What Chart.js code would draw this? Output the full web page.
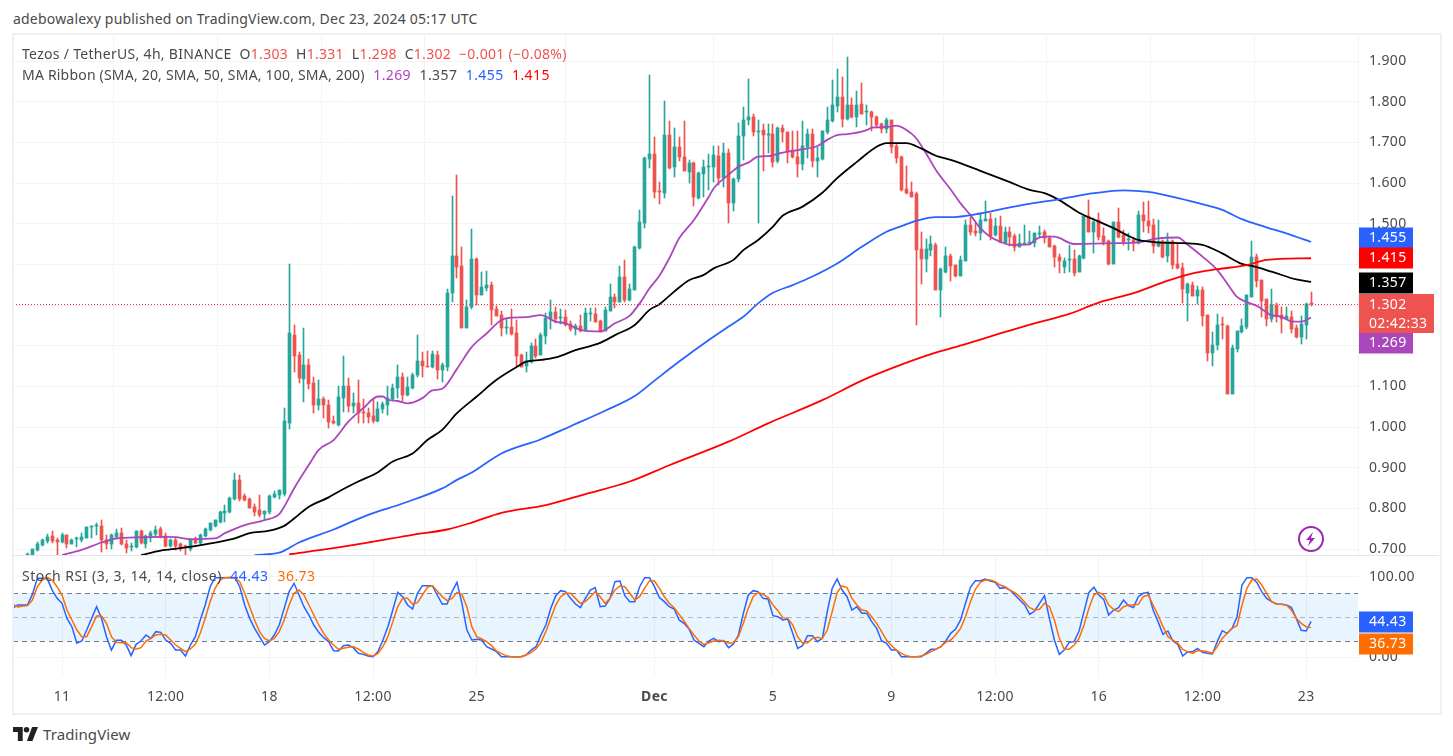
<!DOCTYPE html>
<html>
<head>
<meta charset="utf-8">
<title>Tezos / TetherUS</title>
<script src="https://cdn.jsdelivr.net/npm/chart.js@4"></script>
<style>
  html, body { margin: 0; padding: 0; background: #fff; }
  body { width: 1453px; height: 756px; position: relative; overflow: hidden; font-family: 'Noto Sans', sans-serif; color: #4a4a4a; font-size: 14px; }
  canvas { position: absolute; left: 13px; }
  .txt { position: absolute; white-space: pre; line-height: 18px; letter-spacing: 0.3px; }
  .val { margin-left: 0.8px; letter-spacing: 0.4px; }
  .frame { position: absolute; left: 12px; top: 33px; width: 1426px; height: 678px; border: 2px solid #eff0f6; }
  .sep { position: absolute; left: 13px; top: 555px; width: 1426px; height: 1px; background: #e3e5ec; }
</style>
</head>
<body>
<canvas id="priceChart" width="1427" height="521" style="top:34px"></canvas>
<canvas id="stochChart" width="1427" height="157" style="top:555px"></canvas>
<div class="frame"></div>
<div class="sep"></div>

<div class="txt" style="left:13px;top:10px;letter-spacing:0.2px">adebowalexy published on TradingView.com, Dec 23, 2024 05:17 UTC</div>
<div class="txt" style="left:22px;top:45px">Tezos / TetherUS, 4h, BINANCE  O<span style="color:#ef5350">1.303</span>  H<span style="color:#ef5350">1.331</span>  L<span style="color:#ef5350">1.298</span>  C<span style="color:#ef5350">1.302</span>  <span style="color:#ef5350">−0.001 (−0.08%)</span></div>
<div class="txt" style="left:22px;top:66px;letter-spacing:0.2px">MA Ribbon (SMA, 20, SMA, 50, SMA, 100, SMA, 200)  <span class="val" style="color:#ab47bc">1.269</span>  <span class="val">1.357</span>  <span class="val" style="color:#2962ff">1.455</span>  <span class="val" style="color:#ff0000">1.415</span></div>
<div class="txt" style="left:22px;top:567px;letter-spacing:0.5px">Stoch RSI (3, 3, 14, 14, close)  <span style="color:#2962ff">44.43</span>  <span class="val" style="color:#ff6d00">36.73</span></div>

<svg style="position:absolute;left:13px;top:727px" width="25" height="14" viewBox="0 0 36 20">
  <path fill="#222" d="M14 20H7V7H0V0h14zM28 20h-8L27.5 0h8.5z"></path><circle fill="#222" cx="19.5" cy="4" r="4"></circle>
</svg>
<div class="txt" style="left:43px;top:725px;font-size:15px;letter-spacing:0.1px">TradingView</div>

<svg style="position:absolute;left:1297px;top:525px" width="28" height="28" viewBox="0 0 28 28">
  <circle cx="14" cy="14" r="12" fill="#fff" stroke="#9c27b0" stroke-width="2"></circle>
  <path fill="#9c27b0" d="M16 7l-7 8h4l-2 6 7-8h-4z"></path>
</svg>

<script>
// candle index 0 is Nov 11 00:00, one step is 4h
const firstCandle = -7;
const opens = [
  0.680,0.672,0.698,0.710,0.720,0.731,0.722,
  0.718,0.734,0.713,0.724,0.722,0.728,0.753,0.756,0.757,0.722,
  0.712,0.730,0.739,0.712,0.706,0.704,0.744,0.712,0.732,0.736,
  0.749,0.732,0.707,0.722,0.712,0.707,0.699,0.722,0.715,0.733,
  0.747,0.757,0.767,0.789,0.791,0.824,0.870,0.831,0.823,0.803,
  0.796,0.785,0.791,0.829,0.833,0.835,1.011,1.226,1.177,1.118,
  1.152,1.108,1.054,1.069,1.054,1.015,1.005,1.072,1.101,1.052,
  1.060,1.038,1.035,1.027,1.015,1.044,1.054,1.069,1.096,1.123,
  1.079,1.096,1.128,1.162,1.150,1.148,1.177,1.140,1.148,1.330,
  1.420,1.396,1.244,1.295,1.413,1.325,1.342,1.349,1.290,1.275,
  1.244,1.246,1.231,1.177,1.151,1.161,1.199,1.177,1.224,1.266,
  1.283,1.269,1.270,1.253,1.240,1.248,1.239,1.279,1.278,1.261,
  1.237,1.285,1.320,1.308,1.369,1.312,1.337,1.440,1.502,1.659,
  1.671,1.580,1.575,1.718,1.639,1.689,1.664,1.628,1.649,1.563,
  1.622,1.640,1.640,1.666,1.612,1.674,1.552,1.610,1.716,1.755,
  1.762,1.726,1.730,1.719,1.720,1.654,1.735,1.726,1.681,1.664,
  1.647,1.689,1.720,1.655,1.659,1.725,1.753,1.789,1.812,1.757,
  1.792,1.763,1.794,1.774,1.775,1.763,1.745,1.733,1.755,1.691,
  1.665,1.585,1.578,1.573,1.438,1.413,1.435,1.448,1.337,1.381,
  1.420,1.398,1.372,1.408,1.497,1.482,1.476,1.507,1.511,1.472,
  1.494,1.452,1.480,1.470,1.443,1.450,1.453,1.453,1.475,1.480,
  1.466,1.445,1.419,1.394,1.411,1.413,1.381,1.415,1.519,1.480,
  1.509,1.470,1.458,1.402,1.503,1.472,1.460,1.460,1.452,1.521,
  1.507,1.497,1.446,1.457,1.421,1.457,1.401,1.390,1.329,1.349,
  1.323,1.337,1.275,1.183,1.202,1.251,1.249,1.081,1.192,1.234,
  1.245,1.320,1.417,1.361,1.315,1.266,1.301,1.275,1.266,1.271,
  1.244,1.221,1.252,1.303
];
const highs = [
  0.689,0.699,0.718,0.725,0.737,0.744,0.726,
  0.739,0.734,0.724,0.729,0.739,0.755,0.757,0.763,0.771,0.735,
  0.737,0.749,0.751,0.722,0.714,0.745,0.748,0.735,0.745,0.757,
  0.754,0.740,0.725,0.728,0.716,0.710,0.724,0.730,0.737,0.751,
  0.765,0.771,0.793,0.808,0.828,0.887,0.882,0.835,0.825,0.811,
  0.833,0.794,0.833,0.843,0.845,1.046,1.401,1.251,1.184,1.243,
  1.167,1.123,1.116,1.074,1.066,1.027,1.101,1.175,1.120,1.084,
  1.116,1.069,1.047,1.069,1.062,1.062,1.101,1.106,1.152,1.134,
  1.124,1.134,1.226,1.185,1.187,1.187,1.187,1.157,1.339,1.568,
  1.620,1.443,1.312,1.487,1.416,1.382,1.384,1.357,1.298,1.286,
  1.266,1.290,1.263,1.179,1.185,1.207,1.216,1.231,1.280,1.312,
  1.295,1.290,1.288,1.261,1.253,1.275,1.293,1.293,1.293,1.263,
  1.295,1.352,1.327,1.396,1.411,1.352,1.445,1.534,1.663,1.866,
  1.713,1.603,1.802,1.752,1.735,1.713,1.752,1.657,1.652,1.628,
  1.657,1.671,1.691,1.691,1.698,1.684,1.612,1.748,1.788,1.856,
  1.770,1.755,1.745,1.745,1.745,1.738,1.743,1.726,1.728,1.728,
  1.752,1.733,1.733,1.689,1.728,1.788,1.853,1.880,1.861,1.911,
  1.809,1.826,1.847,1.792,1.778,1.765,1.748,1.760,1.755,1.699,
  1.666,1.642,1.602,1.578,1.480,1.462,1.470,1.453,1.391,1.443,
  1.425,1.398,1.420,1.509,1.516,1.502,1.526,1.556,1.526,1.514,
  1.520,1.492,1.492,1.475,1.475,1.497,1.483,1.478,1.494,1.484,
  1.470,1.448,1.425,1.415,1.448,1.435,1.423,1.519,1.558,1.513,
  1.527,1.489,1.460,1.505,1.539,1.484,1.476,1.468,1.531,1.554,
  1.556,1.511,1.509,1.460,1.478,1.460,1.452,1.403,1.355,1.356,
  1.347,1.344,1.275,1.233,1.278,1.271,1.250,1.202,1.236,1.265,
  1.325,1.457,1.425,1.361,1.315,1.339,1.304,1.296,1.294,1.286,
  1.251,1.274,1.306,1.331
];
const lows = [
  0.675,0.670,0.695,0.708,0.714,0.716,0.685,
  0.716,0.702,0.712,0.704,0.718,0.726,0.728,0.735,0.693,0.700,
  0.700,0.725,0.710,0.689,0.696,0.702,0.712,0.702,0.718,0.733,
  0.726,0.704,0.706,0.698,0.696,0.685,0.696,0.712,0.712,0.730,
  0.744,0.755,0.765,0.767,0.789,0.821,0.818,0.818,0.800,0.780,
  0.778,0.773,0.786,0.826,0.824,0.830,0.995,1.136,1.108,1.061,
  1.093,1.035,1.042,1.022,0.998,1.007,1.002,1.037,1.037,1.034,
  1.010,1.010,1.011,1.010,1.012,1.034,1.030,1.065,1.071,1.064,
  1.076,1.093,1.124,1.124,1.148,1.146,1.118,1.111,1.138,1.307,
  1.367,1.244,1.244,1.290,1.300,1.325,1.335,1.251,1.274,1.224,
  1.229,1.226,1.148,1.148,1.136,1.158,1.170,1.177,1.204,1.241,
  1.256,1.253,1.249,1.237,1.226,1.234,1.237,1.261,1.258,1.234,
  1.236,1.285,1.293,1.308,1.307,1.311,1.337,1.438,1.489,1.637,
  1.563,1.548,1.563,1.634,1.615,1.655,1.630,1.601,1.544,1.561,
  1.566,1.583,1.602,1.595,1.591,1.502,1.532,1.603,1.657,1.743,
  1.716,1.502,1.630,1.674,1.639,1.649,1.702,1.650,1.661,1.615,
  1.632,1.661,1.639,1.615,1.657,1.720,1.751,1.775,1.738,1.755,
  1.760,1.738,1.770,1.743,1.728,1.736,1.723,1.724,1.675,1.650,
  1.581,1.573,1.566,1.251,1.352,1.382,1.420,1.337,1.271,1.379,
  1.360,1.369,1.371,1.408,1.472,1.470,1.460,1.507,1.460,1.470,
  1.452,1.450,1.445,1.433,1.443,1.448,1.448,1.443,1.468,1.453,
  1.442,1.394,1.378,1.379,1.382,1.372,1.380,1.413,1.479,1.427,
  1.460,1.448,1.398,1.401,1.464,1.448,1.435,1.433,1.450,1.480,
  1.476,1.429,1.443,1.416,1.405,1.389,1.388,1.304,1.261,1.323,
  1.302,1.248,1.162,1.151,1.189,1.216,1.081,1.081,1.185,1.230,
  1.241,1.319,1.345,1.271,1.248,1.259,1.259,1.232,1.265,1.232,
  1.218,1.205,1.216,1.298
];
const closes = [
  0.687,0.699,0.712,0.722,0.730,0.720,0.718,
  0.734,0.713,0.722,0.725,0.730,0.753,0.754,0.757,0.722,0.712,
  0.735,0.739,0.712,0.702,0.707,0.744,0.714,0.732,0.739,0.747,
  0.730,0.707,0.722,0.707,0.703,0.706,0.722,0.715,0.735,0.749,
  0.763,0.771,0.791,0.794,0.826,0.870,0.824,0.821,0.801,0.791,
  0.784,0.793,0.830,0.835,0.844,1.015,1.231,1.175,1.120,1.152,
  1.106,1.054,1.069,1.054,1.013,1.010,1.075,1.101,1.052,1.060,
  1.035,1.035,1.025,1.015,1.044,1.057,1.072,1.096,1.123,1.079,
  1.098,1.128,1.162,1.150,1.148,1.180,1.140,1.152,1.330,1.420,
  1.394,1.244,1.295,1.413,1.325,1.344,1.349,1.288,1.274,1.243,
  1.246,1.229,1.175,1.148,1.162,1.199,1.175,1.226,1.268,1.283,
  1.266,1.270,1.251,1.241,1.248,1.236,1.280,1.280,1.258,1.234,
  1.288,1.320,1.307,1.369,1.312,1.339,1.443,1.504,1.661,1.671,
  1.579,1.579,1.718,1.637,1.689,1.664,1.630,1.649,1.566,1.625,
  1.639,1.641,1.669,1.613,1.674,1.552,1.610,1.716,1.755,1.762,
  1.726,1.728,1.718,1.720,1.652,1.735,1.726,1.676,1.664,1.647,
  1.691,1.720,1.655,1.661,1.728,1.755,1.792,1.812,1.757,1.792,
  1.762,1.792,1.770,1.775,1.763,1.743,1.732,1.755,1.689,1.662,
  1.583,1.575,1.566,1.435,1.413,1.438,1.450,1.337,1.389,1.420,
  1.396,1.372,1.411,1.497,1.480,1.476,1.509,1.511,1.470,1.494,
  1.454,1.480,1.468,1.443,1.452,1.453,1.456,1.478,1.476,1.466,
  1.443,1.419,1.409,1.409,1.412,1.379,1.420,1.519,1.480,1.504,
  1.468,1.456,1.402,1.503,1.468,1.456,1.462,1.456,1.521,1.507,
  1.495,1.445,1.456,1.419,1.457,1.398,1.390,1.339,1.352,1.323,
  1.337,1.273,1.183,1.202,1.251,1.250,1.081,1.195,1.236,1.248,
  1.325,1.419,1.360,1.311,1.266,1.301,1.273,1.266,1.273,1.241,
  1.221,1.253,1.302,1.302
];

// moving averages, read at the candle indexes listed next to them
const sma20Idx = [0,4,8,11,16,21,23,26,31,33,37,41,44,45,47,50,52,55,58,61,64,65,66,68,70,73,75,77,80,83,86,89,91,94,97,100,102,105,109,112,115,117,119,121,123,125,128,131,132,135,137,139,141,143,146,149,153,155,157,159,163,164,167,169,172,173,175,177,180,182,184,186,188,190,192,196,197,199,201,205,214,218,222,226,228,231,234,236,238,240,242,245,247,249,251,253];
const sma20 = [0.685,0.698,0.716,0.726,0.729,0.730,0.729,0.724,0.726,0.739,0.759,0.771,0.786,0.804,0.849,0.907,0.944,0.968,1.013,1.046,1.075,1.075,1.067,1.064,1.058,1.071,1.090,1.094,1.143,1.197,1.230,1.263,1.269,1.270,1.275,1.259,1.255,1.239,1.235,1.255,1.274,1.304,1.341,1.372,1.415,1.464,1.509,1.566,1.587,1.620,1.640,1.650,1.665,1.666,1.675,1.681,1.691,1.706,1.718,1.720,1.730,1.736,1.738,1.741,1.722,1.710,1.673,1.632,1.584,1.550,1.521,1.489,1.468,1.456,1.448,1.449,1.460,1.468,1.468,1.450,1.452,1.454,1.464,1.466,1.448,1.419,1.386,1.353,1.320,1.307,1.298,1.275,1.271,1.260,1.259,1.269];
const sma50Idx = [16,20,24,31,35,38,42,45,47,50,54,56,60,64,67,71,74,77,80,84,88,92,94,97,100,104,109,112,116,119,121,124,127,130,132,136,138,141,144,146,150,154,157,161,165,167,171,174,177,180,186,192,196,199,202,206,210,213,216,218,222,227,231,235,239,241,245,250,253];
const sma50 = [0.685,0.696,0.702,0.716,0.726,0.739,0.745,0.757,0.775,0.804,0.827,0.841,0.866,0.889,0.915,0.935,0.968,0.993,1.034,1.075,1.116,1.147,1.161,1.165,1.171,1.189,1.207,1.226,1.251,1.288,1.302,1.333,1.361,1.374,1.390,1.411,1.435,1.460,1.493,1.520,1.542,1.576,1.612,1.652,1.689,1.698,1.698,1.685,1.667,1.657,1.630,1.602,1.583,1.575,1.558,1.527,1.505,1.489,1.470,1.460,1.454,1.452,1.448,1.427,1.401,1.396,1.382,1.363,1.357];
const sma100Idx = [39,44,45,48,55,62,69,77,80,83,89,97,103,110,116,120,125,131,135,138,141,144,148,152,157,162,167,170,173,177,180,186,192,197,202,209,215,220,225,230,235,239,244,249,253];
const sma100 = [0.685,0.691,0.696,0.716,0.748,0.784,0.812,0.849,0.870,0.888,0.935,0.970,1.002,1.040,1.076,1.114,1.161,1.214,1.247,1.271,1.304,1.330,1.349,1.370,1.402,1.443,1.480,1.494,1.507,1.516,1.516,1.525,1.540,1.551,1.560,1.575,1.582,1.578,1.566,1.551,1.534,1.511,1.491,1.472,1.455];
const sma200Idx = [46,55,63,71,78,83,89,98,106,115,123,135,143,154,162,168,176,183,190,197,204,210,217,224,229,234,240,244,253];
const sma200 = [0.687,0.702,0.718,0.735,0.748,0.765,0.789,0.808,0.835,0.866,0.906,0.964,1.009,1.066,1.114,1.144,1.179,1.204,1.230,1.255,1.278,1.306,1.329,1.360,1.378,1.388,1.398,1.411,1.415];

// stoch rsi, one value per candle
const firstStoch = -10;
const stochK = [
  60.8,65,65,65,78.3,98.3,98.3,98.3,83.7,73.3,
  67.1,48.3,37.9,17.1,20,33.7,48.3,62.9,48.3,25.4,
  8.7,20.8,20.8,15,1.7,15.8,20,27.5,23.3,31.7,
  30.8,21.2,17.1,8.7,8.7,1.2,15,25.4,46.3,65,
  87.9,99.2,99.2,99.2,99.2,99.2,87.9,65,48.3,35.8,
  25.4,15,19.2,27.5,40,60.8,81.7,92.1,77.5,62.9,
  52.5,40,30.8,24.2,19.2,7.9,7.5,14.2,15,11.7,
  4.6,3.3,1.2,0.4,6.7,21.2,37.9,58.7,80.8,75.4,
  65,60,79.6,89.2,89.2,89.2,77.5,66.2,66.2,81.7,
  93.3,67.1,33.7,21.2,22.1,21.2,12.9,10,6.7,0.4,
  0.4,0.4,0,0.4,2.5,8.7,12.9,27.5,40,60.8,
  76.7,82.9,81.7,73.3,66.2,61.7,73.3,83.7,86.7,62.9,
  63.7,73.3,94.2,95,76.7,69.2,69.2,87.9,99.2,99.2,
  87.9,74.2,69.2,62.9,60,46.3,42.1,35,21.2,17.1,
  12.9,20,23.3,19.2,20.4,11.7,16.2,27.5,54.6,77.5,
  82.9,81.7,73.3,72.5,51.7,50.4,46.3,47.5,29.6,10.8,
  14.2,26.7,26.7,19.2,23.3,56.7,85.8,97.5,83.7,75.4,
  58.7,62.9,54.6,54.6,44.2,35.8,20.4,17.1,8.7,8.7,
  0.4,0.4,0.4,0.4,0.4,4.6,9.6,9.6,12.9,20,
  29.6,35,46.3,67.1,87.1,95.4,95.4,97.5,95,93.3,
  85.8,86.7,83.7,77.5,71.2,65,53.3,57.5,67.1,76.7,
  48.3,21.2,3.3,8.7,18.3,19.2,32.5,56.7,80.8,87.1,
  77.5,72.1,52.5,58.7,61.7,71.2,64.2,61.7,75.4,79.6,
  80.8,58.7,44.2,28.3,32.5,20,15.8,1.2,6.7,6.7,
  10.8,5.8,4.6,3.7,19.2,32.9,29.6,35.8,50.4,90,
  99.2,99.2,93.3,81.7,73.3,69.2,66.2,65.8,65,62.1,
  48.3,33.3,32.5,44.43
];
const stochD = [
  66.2,62.5,63.3,64.2,71.2,87.9,96.2,99.6,96.2,87.9,
  77.5,58.7,46.3,33.7,25.4,25.4,37.9,51.2,51.2,42.1,
  25.4,18.3,17.9,17.9,11.7,9.6,11.7,20,23.3,27.5,
  28.3,27.5,21.2,15,10.8,6.7,10,15.8,29.6,48.3,
  69.2,85.8,96.2,99.2,99.6,99.2,94.2,79.6,62.9,46.3,
  31.7,23.3,20,23.3,31.7,46.3,65,79.6,83.7,77.5,
  65,52.5,40,29.6,21.2,15,9.6,10.8,12.1,12.9,
  10,5.8,2.5,1.2,4.6,12.9,25.4,44.2,62.9,73.3,
  73.3,66.2,67.9,77.5,87.1,89.2,82.5,75.4,70.4,73.3,
  80.8,78.3,62.9,37.9,25.4,22.5,19.2,14.2,7.5,4.2,
  1.7,0.4,0.4,0.4,2.5,5.4,10,18.3,31.7,48.3,
  65,75.4,79.6,79.6,73.3,67.1,69.2,75.4,81.7,75.4,
  67.1,73.3,83.7,88.8,87.9,79.6,71.2,75.4,85.8,95.4,
  95,85.8,75.4,67.1,61.7,53.3,45,35.8,27.5,20,
  15.8,17.9,20,20.8,20.4,17.1,17.9,25.4,42.1,60.8,
  75.4,80.8,78.3,74.6,65,57.9,49.2,48.3,40,25.4,
  17.1,17.9,23.3,24.6,23.3,33.7,56.7,80.4,88.8,86.7,
  73.3,65,58.7,57.5,50.4,42.1,31.7,21.2,14.2,8.7,
  4.6,1.7,0.4,0.4,1.2,3.3,6.7,9.6,12.9,18.3,
  21.2,27.5,35.8,50.4,69.2,84.6,93.3,96.2,96.2,94.2,
  90,87.9,83.7,80.4,75.4,68.3,61.7,58.7,59.6,67.1,
  62.9,46.3,23.3,9.6,9.6,15,23.3,40,60.8,77.5,
  80.8,77.5,65,59.6,56.7,62.9,65,65,65.8,75.4,
  77.5,65,52.5,37.9,25.4,21.2,17.1,9.6,6.7,4.6,
  7.9,7.9,6.7,4.6,12.9,23.3,29.6,35.8,39.2,65,
  85.8,96.2,97.5,90,79.6,69.2,65.8,65.8,65,58.7,
  48.3,42.1,37.9,36.73
];

// axes
const priceTicks = [0.7,0.8,0.9,1.0,1.1,1.2,1.3,1.4,1.5,1.6,1.7,1.8,1.9];
const stochTicks = [0,100];
const timeTickIdx = [0,21,42,63,84,120,144,168,189,210,231,252];
const timeTickLabels = ['11','12:00','18','12:00','25','Dec','5','9','12:00','16','12:00','23'];
const lastPrice = 1.302;

const GREEN = '#26a69a', RED = '#ef5350', GRID = '#f3f4f6', AXIS_TEXT = '#4a4a4a';
const FONT = "'Noto Sans', sans-serif";
const AXIS_W = 82;
const X_MIN = -9.93, X_MAX = 262.5;

function pairs(idx, vals) {
  return idx.map(function (x, n) { return { x: x, y: vals[n] }; });
}
function timeScale(showLabels) {
  return {
    type: 'linear', min: X_MIN, max: X_MAX, offset: false,
    afterBuildTicks: function (s) { s.ticks = timeTickIdx.map(function (v) { return { value: v }; }); },
    afterFit: function (s) {
      s.height = showLabels ? 35 : 0;
      s.paddingLeft = 0;
      s.paddingRight = 0;
    },
    grid: { color: GRID, drawTicks: false },
    border: { display: false },
    ticks: {
      display: showLabels, autoSkip: false, maxRotation: 0, padding: 12, color: AXIS_TEXT,
      font: function (ctx) {
        return { family: FONT, size: 14, weight: ctx.tick && ctx.tick.value === 120 ? 'bold' : 'normal' };
      },
      callback: function (v) { return timeTickLabels[timeTickIdx.indexOf(v)]; }
    }
  };
}
function valueScale(min, max, tickList, digits) {
  return {
    position: 'right', min: min, max: max,
    afterBuildTicks: function (s) { s.ticks = tickList.map(function (v) { return { value: v }; }); },
    afterFit: function (s) {
      s.width = AXIS_W;
      // no room kept for half a label above and below, the panes touch
      s.paddingTop = 0;
      s.paddingBottom = 0;
    },
    grid: { color: GRID, drawTicks: false },
    border: { display: false },
    ticks: {
      autoSkip: false, padding: 11, color: AXIS_TEXT, font: { family: FONT, size: 14 },
      callback: function (v) { return v.toFixed(digits); }
    }
  };
}
function maLine(label, idx, vals, color) {
  return { type: 'line', label: label, data: pairs(idx, vals), borderColor: color, borderWidth: 1.8, pointRadius: 0, cubicInterpolationMode: 'monotone', order: 1 };
}

// canvas text gets the same slight tracking as the labels in the picture
const tracking = {
  id: 'tracking',
  beforeDraw: function (chart) { chart.ctx.letterSpacing = '0.35px'; }
};

// snaps candles to whole pixels so bodies and wicks stay crisp
const snapBars = {
  id: 'snapBars',
  beforeDatasetsDraw: function (chart) {
    chart.data.datasets.forEach(function (ds, n) {
      if (ds.type !== 'bar') return;
      chart.getDatasetMeta(n).data.forEach(function (el) {
        el.x = Math.floor(el.x) + 0.5;
        el.y = Math.round(el.y);
        el.base = Math.round(el.base);
      });
    });
  }
};

function drawTag(ctx, scale, value, dy, bg, right, lines) {
  const cy = Math.round(scale.getPixelForValue(value)) + dy;
  const h = lines.length > 1 ? 39 : 21;
  const x = scale.left + 1;
  ctx.fillStyle = bg;
  ctx.fillRect(x, cy - h / 2, right - x, h);
  ctx.fillStyle = '#fff';
  ctx.font = '14px ' + FONT;
  ctx.textBaseline = 'middle';
  ctx.textAlign = 'left';
  lines.forEach(function (t, n) {
    const ly = lines.length > 1 ? cy - 9 + n * 19 : cy;
    ctx.fillText(t, scale.left + 11, ly + 0.5);
  });
}

const priceOverlay = {
  id: 'priceOverlay',
  afterDatasetsDraw: function (chart) {
    const ctx = chart.ctx, y = chart.scales.y, a = chart.chartArea;
    const py = Math.round(y.getPixelForValue(lastPrice)) + 0.5;
    ctx.save();
    ctx.strokeStyle = '#f23645';
    ctx.lineWidth = 1;
    ctx.setLineDash([1, 2]);
    ctx.beginPath();
    ctx.moveTo(a.left, py);
    ctx.lineTo(a.right, py);
    ctx.stroke();
    ctx.setLineDash([]);
    drawTag(ctx, y, 1.455, -4, '#2962ff', 1400, ['1.455']);
    drawTag(ctx, y, 1.415, 0, '#ff0000', 1400, ['1.415']);
    drawTag(ctx, y, 1.357, 1, '#000000', 1400, ['1.357']);
    drawTag(ctx, y, 1.269, 25, '#ab47bc', 1400, ['1.269']);
    drawTag(ctx, y, 1.302, 9.5, RED, 1421, ['1.302', '02:42:33']);
    ctx.restore();
  }
};

const stochBand = {
  id: 'stochBand',
  beforeDatasetsDraw: function (chart) {
    const ctx = chart.ctx, y = chart.scales.y, a = chart.chartArea;
    const top = y.getPixelForValue(80), bot = y.getPixelForValue(20);
    ctx.save();
    ctx.fillStyle = 'rgba(33,150,243,0.1)';
    ctx.fillRect(a.left, top, a.right - a.left, bot - top);
    ctx.lineWidth = 1;
    ctx.setLineDash([5, 4]);
    [[80, '#787b86'], [50, 'rgba(120,123,134,0.5)'], [20, '#787b86']].forEach(function (b) {
      const py = Math.round(y.getPixelForValue(b[0])) + 0.5;
      ctx.strokeStyle = b[1];
      ctx.beginPath();
      ctx.moveTo(a.left, py);
      ctx.lineTo(a.right, py);
      ctx.stroke();
    });
    ctx.restore();
  }
};
const stochTags = {
  id: 'stochTags',
  afterDatasetsDraw: function (chart) {
    const ctx = chart.ctx, y = chart.scales.y;
    ctx.save();
    drawTag(ctx, y, 44.43, 1, '#2962ff', 1400, ['44.43']);
    drawTag(ctx, y, 36.73, 16, '#ff6d00', 1400, ['36.73']);
    ctx.restore();
  }
};

const wicks = lows.map(function (l, n) { return { x: firstCandle + n, y: [l, highs[n]] }; });
const bodies = opens.map(function (o, n) { return { x: firstCandle + n, y: [o, closes[n]] }; });
const candleColors = opens.map(function (o, n) { return closes[n] >= o ? GREEN : RED; });

new Chart(document.getElementById('priceChart'), {
  type: 'bar',
  data: {
    datasets: [
      { type: 'bar', label: 'wick', data: wicks, backgroundColor: candleColors, barThickness: 1, grouped: false, order: 4 },
      { type: 'bar', label: 'body', data: bodies, backgroundColor: candleColors, barThickness: 3, minBarLength: 1, grouped: false, order: 3 },
      maLine('SMA 200', sma200Idx, sma200, '#ff0000'),
      maLine('SMA 100', sma100Idx, sma100, '#2962ff'),
      maLine('SMA 50', sma50Idx, sma50, '#000000'),
      maLine('SMA 20', sma20Idx, sma20, '#ab47bc')
    ]
  },
  options: {
    responsive: false, animation: false, events: [],
    layout: { padding: 0, autoPadding: false },
    plugins: { legend: { display: false }, tooltip: { enabled: false } },
    scales: { x: timeScale(false), y: valueScale(0.6853, 1.9664, priceTicks, 3) }
  },
  plugins: [tracking, snapBars, priceOverlay]
});

new Chart(document.getElementById('stochChart'), {
  type: 'line',
  data: {
    datasets: [
      { label: '%K', data: stochK.map(function (v, n) { return { x: firstStoch + n, y: v }; }), borderColor: '#2962ff', borderWidth: 1.5, pointRadius: 0, tension: 0, order: 2 },
      { label: '%D', data: stochD.map(function (v, n) { return { x: firstStoch + n, y: v }; }), borderColor: '#ff6d00', borderWidth: 1.5, pointRadius: 0, tension: 0, order: 1 }
    ]
  },
  options: {
    responsive: false, animation: false, events: [],
    layout: { padding: 0, autoPadding: false },
    plugins: { legend: { display: false }, tooltip: { enabled: false } },
    scales: { x: timeScale(true), y: valueScale(-25, 127.5, stochTicks, 2) }
  },
  plugins: [tracking, stochBand, stochTags]
});
</script>
</body>
</html>
